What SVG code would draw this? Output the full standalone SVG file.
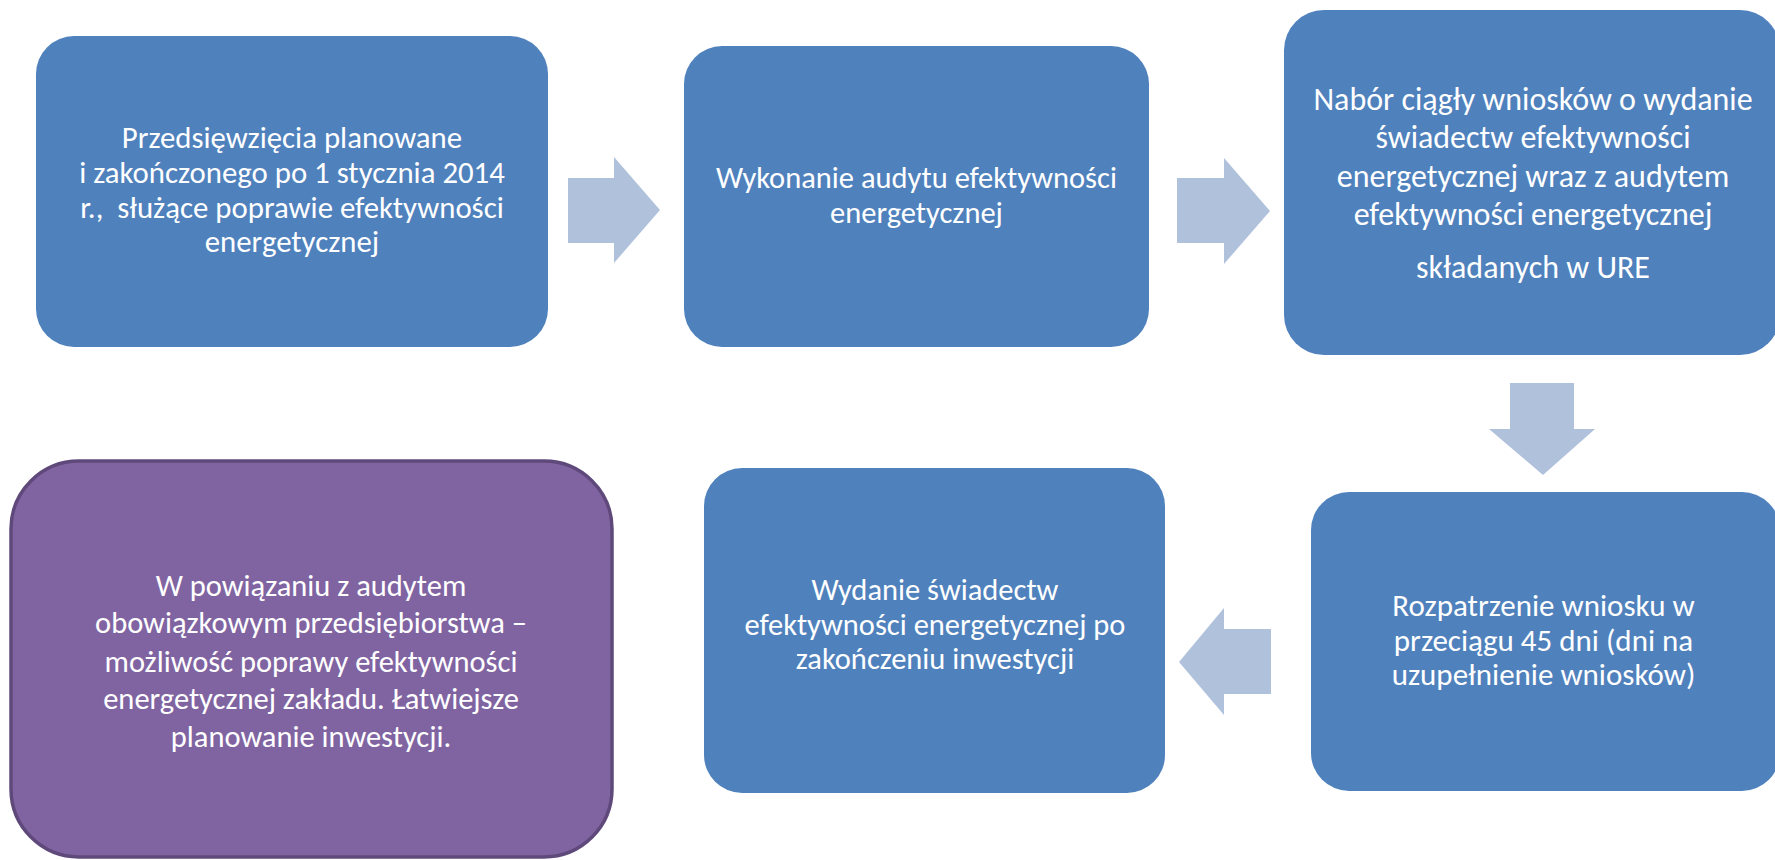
<svg xmlns="http://www.w3.org/2000/svg" width="1775" height="860" viewBox="0 0 1775 860">
<style>
.box{fill:#4F81BD;}
.purple{fill:#8064A2;stroke:#5F497A;stroke-width:3.5;}
.arrow{fill:#B0C1DC;}
.t{font-family:Carlito,Lato,"Open Sans",sans-serif;font-size:30.5px;fill:#FFFFFF;text-anchor:middle;}
.big{font-size:32px;}
.b4{font-size:31px;}
.mid{font-size:30.8px;}
</style>
<rect width="1775" height="860" fill="#FFFFFF"/>
<g id="connectors">
<polygon class="arrow" points="568,178 614,178 614,157 660,210 614,263 614,243 568,243"/>
<polygon class="arrow" points="1177,178 1224,178 1224,158 1270,211 1224,264 1224,243 1177,243"/>
<polygon class="arrow" points="1510,383 1574,383 1574,429 1595,429 1543,475 1489,429 1510,429"/>
<polygon class="arrow" points="1271,629 1224,629 1224,608 1179,662 1224,715 1224,694 1271,694"/>
</g>
<g id="node1">
<rect class="box" x="36" y="36" width="512" height="311" rx="38" ry="38"/>
<text class="t mid" xml:space="preserve"><tspan x="292" y="148">Przedsięwzięcia planowane</tspan><tspan x="292" y="183">i zakończonego po 1 stycznia 2014</tspan><tspan x="292" y="218">r.,  służące poprawie efektywności</tspan><tspan x="292" y="252">energetycznej</tspan></text>
</g>
<g id="node2">
<rect class="box" x="684" y="46" width="465" height="301" rx="38" ry="38"/>
<text class="t"><tspan x="916.5" y="188">Wykonanie audytu efektywności</tspan><tspan x="916.5" y="223">energetycznej</tspan></text>
</g>
<g id="node3">
<rect class="box" x="1284" y="10" width="496" height="345" rx="40" ry="40"/>
<text class="t big"><tspan x="1533" y="110">Nabór ciągły wniosków o wydanie</tspan><tspan x="1533" y="148">świadectw efektywności</tspan><tspan x="1533" y="187">energetycznej wraz z audytem</tspan><tspan x="1533" y="225">efektywności energetycznej</tspan><tspan x="1533" y="278">składanych w URE</tspan></text>
</g>
<g id="node4">
<rect class="box" x="1311" y="492" width="469" height="299" rx="38" ry="38"/>
<text class="t b4"><tspan x="1543.5" y="616">Rozpatrzenie wniosku w</tspan><tspan x="1543.5" y="650.5">przeciągu 45 dni (dni na</tspan><tspan x="1543.5" y="685">uzupełnienie wniosków)</tspan></text>
</g>
<g id="node5">
<rect class="box" x="704" y="468" width="461" height="325" rx="38" ry="38"/>
<text class="t"><tspan x="935" y="600">Wydanie świadectw</tspan><tspan x="935" y="635">efektywności energetycznej po</tspan><tspan x="935" y="669">zakończeniu inwestycji</tspan></text>
</g>
<g id="node6">
<rect class="purple" x="11" y="461" width="601" height="396" rx="68" ry="68"/>
<text class="t"><tspan x="311" y="596">W powiązaniu z audytem</tspan><tspan x="311" y="633">obowiązkowym przedsiębiorstwa –</tspan><tspan x="311" y="672">możliwość poprawy efektywności</tspan><tspan x="311" y="709">energetycznej zakładu. Łatwiejsze</tspan><tspan x="311" y="747">planowanie inwestycji.</tspan></text>
</g>
</svg>
